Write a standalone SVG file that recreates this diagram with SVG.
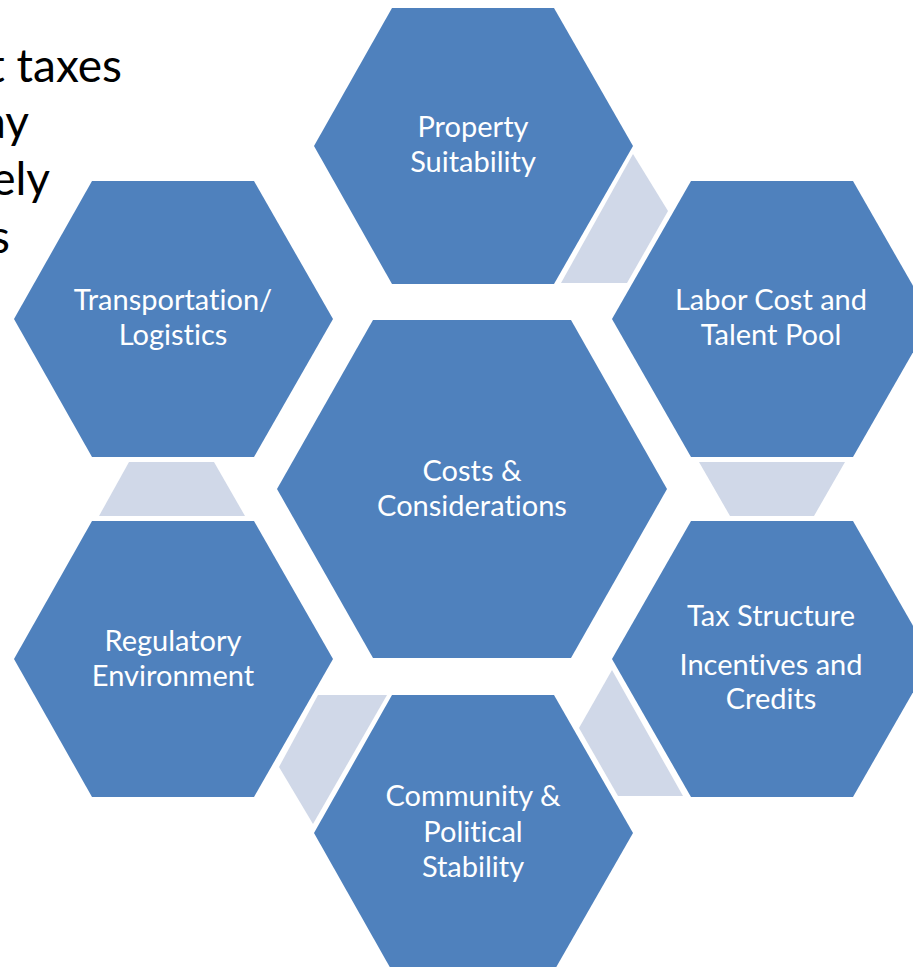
<svg xmlns="http://www.w3.org/2000/svg" width="913" height="967" viewBox="0 0 913 967">
<style>
.hex{fill:#4F81BD;}
.con{fill:#D0D8E8;}
.lbl{font-family:Lato,"Liberation Sans",sans-serif;font-size:29px;fill:#FFFFFF;text-anchor:middle;font-variant-ligatures:none;}
.bg{font-family:Lato,"Liberation Sans",sans-serif;font-size:46px;fill:#000000;text-anchor:end;font-variant-ligatures:none;}
</style>
<rect width="913" height="967" fill="#FFFFFF"/>
<g id="background-text">
<text class="bg" x="122" y="82">t taxes</text>
<text class="bg" x="29" y="138">ay</text>
<text class="bg" x="50" y="195">ely</text>
<text class="bg" x="10" y="253">s</text>
</g>
<g id="connectors">
<polygon class="con" points="633,154 668,211 627,283 561,283"/>
<polygon class="con" points="699,462 845,462 814,516 730,516"/>
<polygon class="con" points="612,670 683,796 618,796 579,728"/>
<polygon class="con" points="318,695 387,695 313,824 279,767"/>
<polygon class="con" points="129,462 214,462 245,516 99,516"/>
</g>
<g id="node-property">
<polygon class="hex" points="392,8 554,8 633,146 554,284 392,284 314,146"/>
<text class="lbl" x="473" y="137">Property</text>
<text class="lbl" x="473" y="172">Suitability</text>
</g>
<g id="node-labor">
<polygon class="hex" points="691,181 853,181 932,319 853,457 691,457 612,319"/>
<text class="lbl" x="771" y="310">Labor Cost and</text>
<text class="lbl" x="771" y="345">Talent Pool</text>
</g>
<g id="node-tax">
<polygon class="hex" points="691,521 853,521 932,659 853,797 691,797 612,659"/>
<text class="lbl" x="771" y="626">Tax Structure</text>
<text class="lbl" x="771" y="675">Incentives and</text>
<text class="lbl" x="771" y="709">Credits</text>
</g>
<g id="node-community">
<polygon class="hex" points="392,695 554,695 633,833 554,971 392,971 314,833"/>
<text class="lbl" x="473" y="806">Community &amp;</text>
<text class="lbl" x="473" y="842">Political</text>
<text class="lbl" x="473" y="877">Stability</text>
</g>
<g id="node-regulatory">
<polygon class="hex" points="92,521 254,521 333,659 254,797 92,797 14,659"/>
<text class="lbl" x="173" y="651">Regulatory</text>
<text class="lbl" x="173" y="686">Environment</text>
</g>
<g id="node-transportation">
<polygon class="hex" points="92,181 254,181 333,319 254,457 92,457 14,319"/>
<text class="lbl" x="173" y="310">Transportation/</text>
<text class="lbl" x="173" y="345">Logistics</text>
</g>
<g id="node-center">
<polygon class="hex" points="373,320 571,320 667,489 571,658 373,658 277,489"/>
<text class="lbl" x="472" y="481">Costs &amp;</text>
<text class="lbl" x="472" y="516">Considerations</text>
</g>
</svg>
